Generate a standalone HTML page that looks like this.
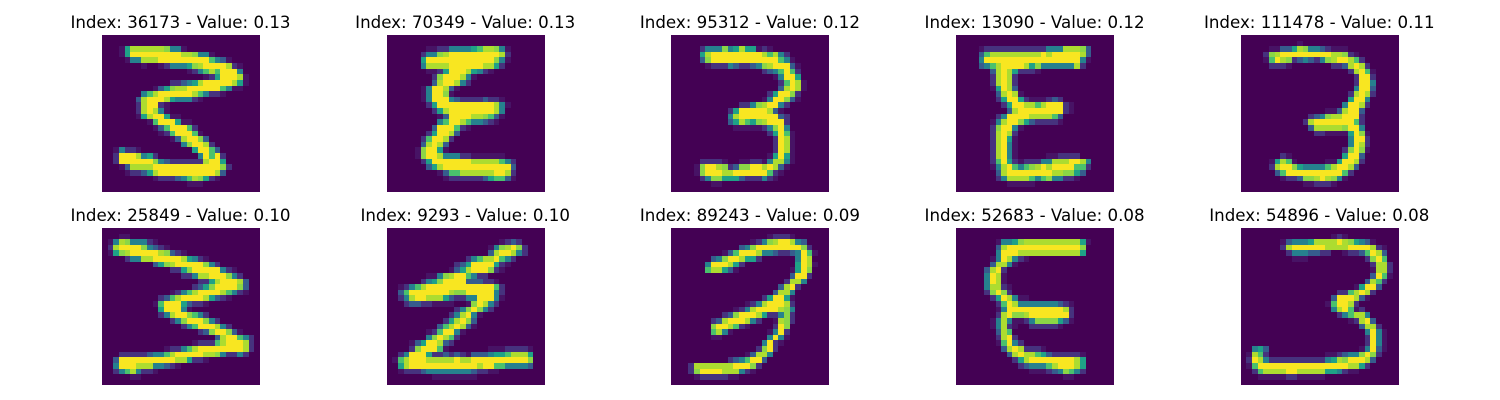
<!DOCTYPE html>
<html>
<head>
<meta charset="utf-8">
<title>Top activating digit images</title>
<style>
html,body{margin:0;padding:0;background:#fff;width:1500px;height:400px;overflow:hidden}
svg{display:block}
text{font-family:"DejaVu Sans","Liberation Sans",sans-serif;font-size:16.67px;fill:#000;text-anchor:middle}
</style>
</head>
<body>
<svg id="figure" width="1500" height="400" viewBox="0 0 1500 400" xmlns="http://www.w3.org/2000/svg"></svg>
<script>
const imageIndices = [36173, 70349, 95312, 13090, 111478, 25849, 9293, 89243, 52683, 54896];
const imageValues = [0.13, 0.13, 0.12, 0.12, 0.11, 0.10, 0.10, 0.09, 0.08, 0.08];

const image36173 = ["","","0001588 8888744 1","0001599 9999999 887441","0000144 8889999 9999964 31","0000000 1001244 4578999 9821","0000000 0000000 0124686 9994","0000000 0000000 0000125 99981","0000000 0000022 3458999 99851","0000000 0013578 8999999 6411","0000000 4689999 9986422 1","0000003 8999854 4421","0000002 89921","0000002 89841","0000001 5899511","0000000 0169995 11","0000000 0013699 962","0000000 0001269 9961","0000000 0000013 89973","0000000 0000000 479982","0014221 0000000 0059963","0029998 4520000 0004969 2","0029999 9974322 2222899 5","0001388 8899999 9999999 72","0000122 3589999 9999998 3","0000000 0012223 4687521","0000000 0000000 0111",""];
const image70349 = ["","","0000000 1122444 4568874 1","0000002 4478999 9999998 2","0000005 9999999 9999974 1","0000004 8888999 9998852","0000000 1125999 85421","0000000 0279998 41","0000000 0389984 2","0000001 499831","0000001 49971","0000001 4999432 2223221","0000000 2599999 9999984 1","0000000 0258999 9999984","0000000 0013999 9887631","0000000 0046998 644321","0000000 0399962 1","0000000 259983","0000002 69982","0000003 8983","0000017 9951","0000017 9984442 2111111","0000002 5999999 9888886 42","0000000 3589999 9999999 93","0000000 0013668 8888899 82","0000000 0001222 2223566 31","",""];
const image95312 = ["","","0000024 4474585 5121","0000058 9999999 9986842","0000037 9999999 9999964 1","0000001 2224322 3478999 31","0000000 0000000 0023469 62","0000000 0000000 0000149 95","0000000 0000000 0000026 981","0000000 0000000 0000038 981","0000000 0000000 0002599 72","0000000 0000000 0014997 31","0000000 0000022 4789942","0000000 0002599 999831","0000000 0004899 9999932","0000000 0003586 5789992","0000000 0000111 1124794","0000000 0000000 0002596 1","0000000 0000000 0000298 1","0000000 0000000 0000298 1","0000000 0000000 0000298 1","0000000 0000000 0001595 1","0000022 2210011 2214884 1","0000179 9872377 9989831","0000179 9988999 999621","0000024 7755532 22421","0000000 11",""];
const image13090 = ["","","0000122 2222222 2244488 873","0000368 8888888 8989999 983","0000499 9999999 9999999 941","0000346 8999985 7444444 82","0000003 8985222 1","0000002 8982","0000002 8982","0000001 5983","0000000 38981","0000000 2599521 11232","0000000 0259988 6899921","0000000 0038999 9999921","0000000 2499998 88863","0000001 4899753 22221","0000002 79941","0000002 8982","0000002 8951","0000002 8941","0000002 8941","0000002 8941000 0011222 2","0000002 6952122 2448889 984","0000001 4896467 8989999 662","0000000 3899999 9998877 53","0000000 2488886 4674422 1","0000000 0011111",""];
const image111478 = ["","0000000 0001","0000011 3358744 32111","0000278 9999999 9988721","0000169 8723432 4789986 2","0000022 2100000 0022389 82","0000000 0000000 0000028 961","0000000 0000000 0000002 992","0000000 0000000 0000002 994","0000000 0000000 0000004 993","0000000 0000000 0000028 982","0000000 0000000 0000059 94","0000000 0000000 0000499 82","0000000 0000000 0113899 3","0000000 0000023 4788999 2","0000000 0000289 9999996 2","0000000 0000038 8888799 4","0000000 0000002 2111159 71","0000000 0000000 0000049 92","0000000 0000000 0000049 82","0000000 0000000 0000279 71","0000000 2100000 0000599 3","0000015 8610000 0115998 2","0000028 9975444 4689983","0000003 6999999 999962","0000000 1223778 98741","0000000 0000112 221",""];
const image25849 = ["","0001100","0148744 421","0289999 74321","0157899 9998732 1","0000244 8899999 85421","0000000 0035789 9999742","0000000 0000022 5799999 421","0000000 0000000 2248899 9742","0000000 0000000 0002258 99983","0000000 0000000 0023579 99973","0000000 0000012 4689999 86421","0000000 0002368 9999853 21","0000000 0016999 53221","0000000 0005999 41","0000000 0002489 97642","0000000 0000024 7999742","0000000 0000000 2469998 42","0000000 0000000 0002379 9731","0000000 0000000 0000003 899642","0000000 0000000 0012226 899982","0000000 0000122 4689999 999982","0002222 2344689 9999887 42242","0039999 9999998 85221","0049998 8844321","0024684 221","0000011",""];
const image9293 = ["","","0000000 0000000 0000001 232","0000000 0000000 0000147 8972","0000000 0000000 0000389 9842","0000000 0000000 2468896 42","0000000 0000023 5999952 1","0000000 0000135 8999721","0000000 1147899 6422","0000002 4579999 333221","0012468 9999999 9999962","0036999 9999877 9999942","0024899 8885322 4499941","0002332 2111100 179842","0000000 0000024 79742","0000000 0000248 941","0000000 0002589 73","0000000 0036898 31","0000000 1269941","0000000 479862","0000135 99832","0000279 9961000 0000111 22221","0024999 5223232 1333455 68885","0168999 8888898 8999999 99997","0058999 9999999 9989966 44443","0012223 4444444 432211","0000000 0111111 11",""];
const image89243 = ["","0000000 0000000 0001222 1","0000000 0000000 1247899 843","0000000 0000034 7999999 9972","0000000 0013699 9844322 34961","0000000 3479985 5200000 0498","0000004 9998520 0000000 05981","0000006 8853100 0000000 1597","0000000 0000000 0000000 3992","0000000 0000000 0000002 884","0000000 0000000 0000038 92","0000000 0000000 0000388 4","0000000 0000000 0025995 1","0000000 0000001 2489998 2","0000000 0000124 8999987 4","0000000 0023799 9852247 2","0000000 2389998 4200187 2","0000000 7998621 0000297","0000000 6841000 0001492","0000000 1100000 0004941","0000000 0000000 004921","0000000 0000000 02792","0000000 0000001 3884","0000000 0002346 993","0002888 8888999 72","0002799 9988842 1","0000122 22211",""];
const image52683 = ["","","0000000 1445788 8888888 851","0000000 3899999 9999999 97","0000000 4999888 8888888 85","0000001 4984210","0000003 8841","0000038 92","0000049 81","0000049 81","0000048 821","0000027 972","0000002 598411","0000000 2698444 4444321","0000000 1499999 9999982","0000000 2897789 9999992","0000001 4841124 7777531","0000001 4821002 22221","0000000 386","0000000 2892","0000000 16942","0000000 0389822 21","0000000 0038988 6532222 21","0000000 0002589 9999999 85","0000000 0000234 4468999 85","0000000 0000001 1123476 42","0000000 0000000 0000011",""];
const image54896 = ["","0000000 0000000 00121","0000000 1344458 8889875 431","0000000 2899999 9888899 99821","0000000 0244433 2200122 36983","0000000 0011100 0000000 02796","0000000 0000000 0000000 002882","0000000 0000000 0000000 001882","0000000 0000000 0000000 003961","0000000 0000000 0000000 03862","0000000 0000000 0000001 5993","0000000 0000000 0002268 982","0000000 0000000 0039998 31","0000000 0000000 0169982","0000000 0000000 0048961 2","0000000 0000000 0002468 84","0000000 0000000 0000012 893","0000000 0000000 0000000 3882","0000000 0000000 0000000 04941","0000000 0000000 0000000 02941","0000000 0000000 0000000 02941","0045300 0000000 0000000 14931","0186200 0000000 0112344 7972","0298422 2222222 2458799 983","0169999 9999999 9999988 52","0026888 8998888 8554211","0001111 1221111 1",""];
const imageRows = [image36173, image70349, image95312, image13090, image111478, image25849, image9293, image89243, image52683, image54896];

const colormap = ['#440154','#471365','#46327e','#365c8d','#26818e','#1fa187','#4ac16d','#8bd646','#addc30','#f8e621'];
const NS = 'http://www.w3.org/2000/svg';
const figure = document.getElementById('figure');
const GRID = 28;
const panelWidth = 157.8;
const panelHeight = 157.4;
const xScale = (col, c) => 102 + col * 284.7 + (c / GRID) * panelWidth;
const yScale = (row, r) => 35 + row * 193 + (r / GRID) * panelHeight;

imageRows.forEach((rows, k) => {
  const col = k % 5;
  const row = Math.floor(k / 5);
  const panel = document.createElementNS(NS, 'g');
  
  
  const title = document.createElementNS(NS, 'text');
  
  
  title.setAttribute('x', xScale(col, GRID / 2) - 0.4);
  title.setAttribute('y', yScale(row, 0) - 7);
  title.textContent = 'Index: ' + imageIndices[k] + ' - Value: ' + imageValues[k].toFixed(2);
  panel.appendChild(title);
  for (let r = 0; r < GRID; r++) {
    const line = (rows[r] || '').replace(/ /g, '').padEnd(GRID, '0');
    for (let c = 0; c < GRID; c++) {
      const x0 = Math.round(xScale(col, c));
      const x1 = Math.round(xScale(col, c + 1));
      const y0 = Math.round(yScale(row, r));
      const y1 = Math.round(yScale(row, r + 1));
      const cell = document.createElementNS(NS, 'rect');
      
      
      cell.setAttribute('x', x0);
      cell.setAttribute('y', y0);
      cell.setAttribute('width', x1 - x0);
      cell.setAttribute('height', y1 - y0);
      cell.setAttribute('fill', colormap[Number(line[c])]);
      cell.setAttribute('shape-rendering', 'crispEdges');
      panel.appendChild(cell);
    }
  }
  figure.appendChild(panel);
});
</script>
</body>
</html>
